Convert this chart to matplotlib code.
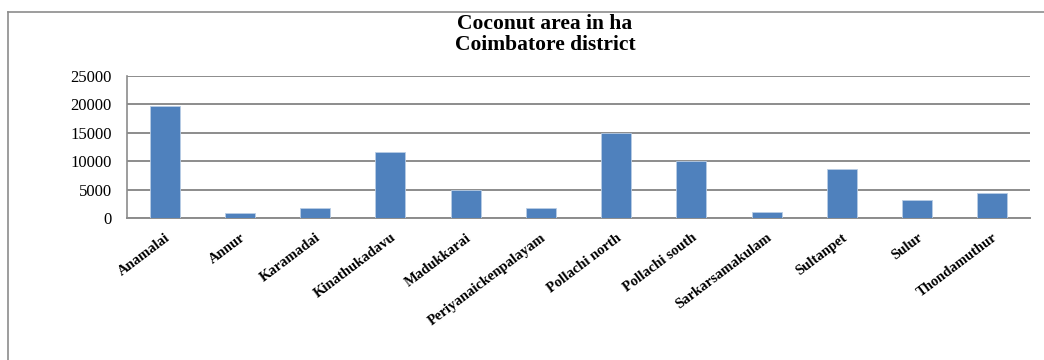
import matplotlib
matplotlib.use("Agg")
import matplotlib.pyplot as plt
from matplotlib.lines import Line2D

blocks = ["Anamalai", "Annur", "Karamadai", "Kinathukadavu", "Madukkarai",
          "Periyanaickenpalayam", "Pollachi north", "Pollachi south",
          "Sarkarsamakulam", "Sultanpet", "Sulur", "Thondamuthur"]
area_ha = [19600, 950, 1800, 11600, 4950, 1800, 15000, 10100, 1200, 8700, 3250, 4400]
y_ticks = [0, 5000, 10000, 15000, 20000, 25000]
title_lines = ["Coconut area in ha", "Coimbatore district"]

plt.rcParams["font.family"] = ["Liberation Serif", "DejaVu Serif"]

fig = plt.figure(figsize=(10.44, 3.6), dpi=100)
ax = fig.add_axes([127 / 1044, 1 - 218.5 / 360, (1030 - 127) / 1044, 143 / 360])

x = list(range(len(blocks)))
ax.bar(x, area_ha, width=0.4, color="#4F81BD", edgecolor="#B9CDE5",
       linewidth=0.6, zorder=3)

ax.set_xlim(-0.5, len(blocks) - 0.5)
ax.set_ylim(0, 25000)
ax.set_yticks(y_ticks)
ax.set_yticklabels([str(v) for v in y_ticks], fontsize=12)
ax.set_xticks(x)
ax.set_xticklabels(blocks, rotation=37, ha="right", rotation_mode="anchor",
                   fontsize=10.5, fontweight="bold")
ax.tick_params(axis="y", length=0, pad=11)
ax.tick_params(axis="x", length=0, pad=9)

ax.grid(axis="y", color="#8C8C8C", linewidth=1.4, zorder=0)
for side in ("top", "right"):
    ax.spines[side].set_visible(False)
ax.spines["left"].set_color("#8C8C8C")
ax.spines["left"].set_linewidth(1.2)
ax.spines["bottom"].set_color("#8C8C8C")
ax.spines["bottom"].set_linewidth(1.4)

fig.text(545 / 1044, 1 - 24 / 360, title_lines[0], ha="center", va="center",
         fontsize=15.5, fontweight="bold")
fig.text(545 / 1044, 1 - 45 / 360, title_lines[1], ha="center", va="center",
         fontsize=15.5, fontweight="bold")

# outer chart frame (top and left edges)
fig.add_artist(Line2D([8 / 1044, 8 / 1044], [0, 1 - 12 / 360],
                      transform=fig.transFigure, color="#8C8C8C", linewidth=1.2))
fig.add_artist(Line2D([8 / 1044, 1], [1 - 12 / 360, 1 - 12 / 360],
                      transform=fig.transFigure, color="#8C8C8C", linewidth=1.2))

fig.savefig("out.png", dpi=100)
